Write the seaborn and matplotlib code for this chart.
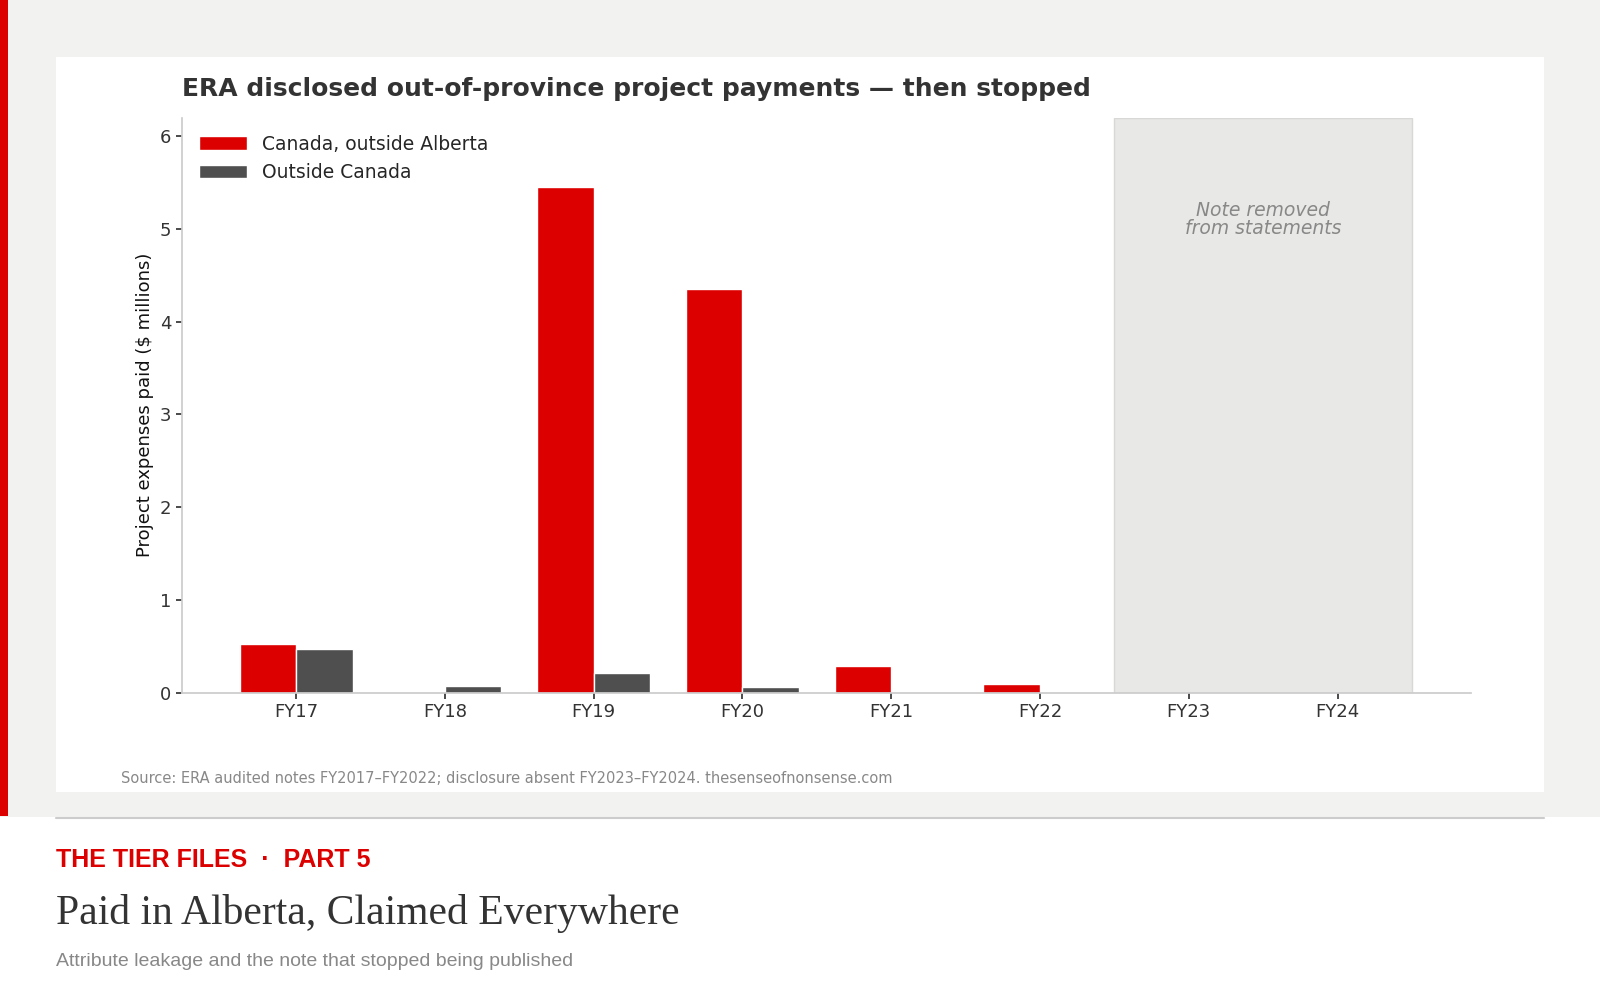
import numpy as np
import pandas as pd
import matplotlib.pyplot as plt
import seaborn as sns
from matplotlib.patches import Rectangle

years = ["FY17", "FY18", "FY19", "FY20", "FY21", "FY22", "FY23", "FY24"]
canada_outside_ab = [0.52, 0.0, 5.45, 4.35, 0.29, 0.09, 0.0, 0.0]
outside_canada = [0.47, 0.07, 0.21, 0.06, 0.0, 0.0, 0.0, 0.0]
series = ["Canada, outside Alberta", "Outside Canada"]

df = pd.DataFrame({
    "year": years * 2,
    "value": canada_outside_ab + outside_canada,
    "series": [series[0]] * len(years) + [series[1]] * len(years),
})

sns.set_theme(style="white")
plt.rcParams['font.family'] = ['DejaVu Sans']

W, H = 1568.0, 960.0
fig = plt.figure(figsize=(16, 10), dpi=100)
fig.patch.set_facecolor("#f2f2f0")

def fx(x): return x / W
def fy(y): return 1 - y / H

# white panel and red stripe
fig.add_artist(Rectangle((fx(55), fy(760)), fx(1513) - fx(55), fy(55) - fy(760),
                         transform=fig.transFigure, facecolor="white", edgecolor="none", zorder=0))
fig.add_artist(Rectangle((0, fy(783)), fx(8), 1 - fy(783),
                         transform=fig.transFigure, facecolor="#dd0000", edgecolor="none", zorder=0))
fig.add_artist(Rectangle((0, fy(960)), 1, fy(784) - fy(960),
                         transform=fig.transFigure, facecolor="white", edgecolor="none", zorder=0))
fig.add_artist(plt.Line2D([fx(55), fx(1513)], [fy(785), fy(785)], transform=fig.transFigure,
                          color="#cccccc", lw=1.5))

ax = fig.add_axes([fx(178), fy(665), fx(1442) - fx(178), fy(113) - fy(665)])
ax.set_facecolor("white")
ax.axvspan(5.5, 7.5, ymin=0, ymax=1, facecolor="#e8e8e6", edgecolor="#d8d8d6", zorder=0)
sns.barplot(data=df, x="year", y="value", hue="series", palette=["#dd0000", "#4f4f4f"],
            width=0.76, saturation=1, ax=ax, zorder=2)
ax.set_xlim(-0.77, 7.9)
ax.set_ylim(0, 6.2)
ax.set_yticks(range(7))
ax.set_xlabel("")
ax.set_ylabel("Project expenses paid ($ millions)", fontsize=13, color="#111111")
ax.tick_params(axis="both", labelsize=13, colors="#333333", length=4, left=True, bottom=True)
for s in ["top", "right"]:
    ax.spines[s].set_visible(False)
for s in ["left", "bottom"]:
    ax.spines[s].set_color("#cccccc")
ax.text(6.5, 5.1, "Note removed\nfrom statements", ha="center", va="center",
        fontsize=13.5, style="italic", color="#888888", linespacing=0.95)
leg = ax.legend(loc="upper left", frameon=False, fontsize=13.5, handlelength=2.6)

fig.text(fx(178), fy(85), "ERA disclosed out-of-province project payments — then stopped",
         fontsize=18, fontweight="bold", color="#333333", va="center")
fig.text(fx(119), fy(747), "Source: ERA audited notes FY2017–FY2022; disclosure absent FY2023–FY2024. thesenseofnonsense.com",
         fontsize=10.5, color="#888888", va="center")
fig.text(fx(55), fy(826), "THE TIER FILES  ·  PART 5", fontsize=18, fontweight="bold",
         color="#dd0000", va="center", family=["Liberation Sans", "DejaVu Sans"])
fig.text(fx(55), fy(877), "Paid in Alberta, Claimed Everywhere", fontsize=30,
         color="#333333", va="center", family=["Liberation Serif", "DejaVu Serif"])
fig.text(fx(55), fy(923), "Attribute leakage and the note that stopped being published",
         fontsize=14, color="#888888", va="center", family=["Liberation Sans", "DejaVu Sans"])

fig.savefig("out.png", dpi=100, facecolor=fig.get_facecolor())
